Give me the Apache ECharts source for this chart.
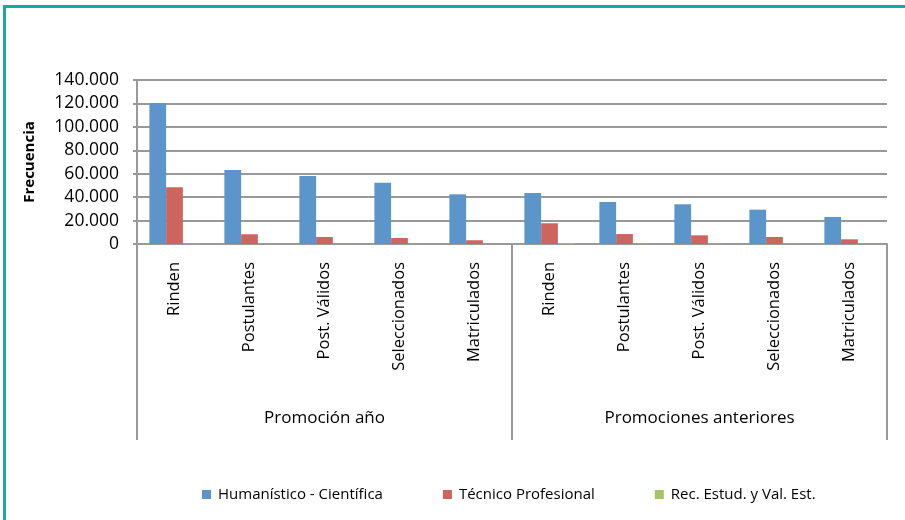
<!DOCTYPE html>
<html>
<head>
<meta charset="utf-8">
<script src="https://cdn.jsdelivr.net/npm/echarts@6/dist/echarts.min.js"></script>
<style>
  html, body { margin: 0; padding: 0; background: #fff; }
  #frame {
    position: absolute; left: 3px; top: 5px; width: 902px; height: 515px;
    border-left: 3px solid #13ad9f; border-top: 3px solid #13ad9f;
    box-sizing: border-box;
  }
  #chart { position: absolute; left: 0; top: 0; width: 905px; height: 520px; }
</style>
</head>
<body>
<div id="frame"></div>
<div id="chart"></div>
<script>
// categories (two levels)
const stages = ['Rinden', 'Postulantes', 'Post. Válidos', 'Seleccionados', 'Matriculados',
                'Rinden', 'Postulantes', 'Post. Válidos', 'Seleccionados', 'Matriculados']
const groups = ['Promoción año', 'Promociones anteriores']
const seriesNames = ['Humanístico - Científica', 'Técnico Profesional', 'Rec. Estud. y Val. Est.']

// series values
const humanistico = [120100, 63200, 58000, 52300, 42400, 43500, 35900, 33900, 29300, 23100]
const tecnico = [48400, 8300, 6000, 5100, 3200, 17700, 8500, 7400, 6000, 4000]
const recEstud = [300, 100, 100, 100, 50, 800, 200, 200, 150, 100]

const colors = ['#5b95c9', '#cd645d', '#a6c465']
const font = 'Open Sans'

const chart = echarts.init(document.getElementById('chart'))

function bar(name, data, color) {
    return {
        name: name,
        type: 'bar',
        xAxisIndex: 0,
        data: data,
        barGap: '0%',
        barCategoryGap: '33%',
        itemStyle: { color: color },
        animation: false,
    }
}

chart.setOption({
    textStyle: { fontFamily: font },
    grid: { left: 137, right: 18, top: 80, bottom: 276, containLabel: false },
    legend: {
        data: seriesNames,
        left: 197,
        top: 482,
        icon: 'rect',
        itemWidth: 9,
        itemHeight: 9,
        itemGap: 60,
        textStyle: { fontSize: 15, color: '#000', fontFamily: font, padding: [0, 0, 0, 2] },
    },
    xAxis: [
        {
            type: 'category',
            data: stages,
            position: 'bottom',
            axisLine: { lineStyle: { color: '#999', width: 2 } },
            axisTick: { show: false },
            axisLabel: { rotate: 90, margin: 18, fontSize: 16.5, color: '#000', interval: 0 },
        },
        {
            type: 'category',
            data: groups,
            position: 'bottom',
            axisLine: { show: false },
            axisTick: { show: true, length: 196, lineStyle: { color: '#999', width: 2 } },
            axisLabel: { margin: 166, fontSize: 17, color: '#000', interval: 0 },
            splitLine: { show: false },
        },
    ],
    yAxis: {
        type: 'value',
        min: 0,
        max: 140000,
        interval: 20000,
        name: 'Frecuencia',
        nameLocation: 'middle',
        nameGap: 100,
        nameTextStyle: { fontSize: 15, fontWeight: 'bold', color: '#000' },
        axisLine: { show: true, lineStyle: { color: '#999', width: 2 } },
        axisTick: { show: true, length: 4, lineStyle: { color: '#999', width: 2 } },
        axisLabel: {
            fontSize: 17.5,
            color: '#000',
            margin: 18,
            formatter: v => (v === 0 ? '0' : Math.round(v / 1000) + '.000'),
        },
        splitLine: { lineStyle: { color: '#999', width: 2 } },
    },
    series: [
        bar(seriesNames[0], humanistico, colors[0]),
        bar(seriesNames[1], tecnico, colors[1]),
        bar(seriesNames[2], recEstud, colors[2]),
    ],
})
</script>
</body>
</html>
